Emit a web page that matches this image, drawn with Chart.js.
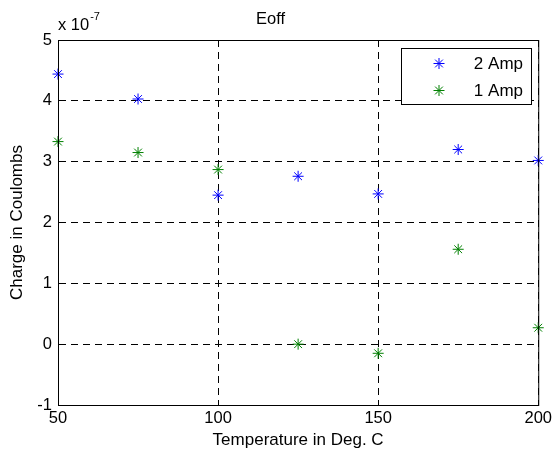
<!DOCTYPE html>
<html>
<head>
<meta charset="utf-8">
<script src="https://cdn.jsdelivr.net/npm/chart.js@4/dist/chart.umd.min.js"></script>
<style>
  html, body { margin: 0; padding: 0; background: #fff; }
  #wrap { width: 556px; height: 454px; }
</style>
</head>
<body>
<div id="wrap"><canvas id="eoffChart" width="556" height="454"></canvas></div>
<script>
// Switching charge vs temperature, values in units of 1e-7 C
let temps = [50, 75, 100, 125, 150, 175, 200];
let amp2 = [4.44, 4.03, 2.45, 2.76, 2.47, 3.20, 3.02];
let amp1 = [3.33, 3.15, 2.87, 0.00, -0.15, 1.56, 0.27];
let seriesNames = ["2 Amp", "1 Amp"];
let seriesColors = ["#0000ff", "#008000"];
let yTicks = [-1, 0, 1, 2, 3, 4, 5];
let xTicks = [50, 100, 150, 200];
let exponent = "-7";

const FONT = "'Liberation Sans', Arial, sans-serif";

function toPoints(ys) {
    return temps.map((t, i) => ({ x: t, y: ys[i] }));
}

// Full box round the plot + exponent note + legend inside
const frame = {
    id: 'frame',
    afterDatasetsDraw(chart) {
        const { ctx, chartArea: a } = chart;
        ctx.save();
        ctx.strokeStyle = '#000';
        ctx.lineWidth = 1;
        ctx.setLineDash([]);
        ctx.strokeRect(a.left + 0.5, a.top + 0.5, a.right - a.left, a.bottom - a.top);

        // exponent label
        ctx.fillStyle = '#000';
        ctx.textBaseline = 'alphabetic';
        ctx.textAlign = 'left';
        ctx.font = "16.5px " + FONT;
        ctx.fillText("x 10", a.left, a.top - 10);
        let w = ctx.measureText("x 10").width;
        ctx.font = "11px " + FONT;
        ctx.fillText(exponent, a.left + w + 1, a.top - 20);

        // legend
        const lx = 401, ly = 48, lw = 130, lh = 56;
        ctx.fillStyle = '#fff';
        ctx.fillRect(lx, ly, lw, lh);
        ctx.strokeStyle = '#000';
        ctx.strokeRect(lx + 0.5, ly + 0.5, lw, lh);
        ctx.font = "17px " + FONT;
        ctx.textAlign = 'right';
        ctx.textBaseline = 'middle';
        chart.data.datasets.forEach((ds, i) => {
            const cy = ly + 15.5 + i * 27;
            ctx.strokeStyle = ds.borderColor;
            ctx.fillStyle = ds.backgroundColor;
            ctx.lineWidth = 1;
            Chart.helpers.drawPoint(ctx, {
                pointStyle: 'star', radius: 5.5, borderWidth: 1
            }, 439, cy);
            ctx.fillStyle = '#000';
            ctx.fillText(ds.label, 523, cy + 1);
        });
        ctx.restore();
    }
};

const ctx = document.getElementById('eoffChart').getContext('2d');
new Chart(ctx, {
    type: 'scatter',
    data: {
        datasets: [
            { label: seriesNames[0], data: toPoints(amp2), borderColor: seriesColors[0], backgroundColor: seriesColors[0] },
            { label: seriesNames[1], data: toPoints(amp1), borderColor: seriesColors[1], backgroundColor: seriesColors[1] }
        ].map(d => Object.assign(d, {
            pointStyle: 'star', pointRadius: 5.5, pointBorderWidth: 1, pointHoverRadius: 5.5, clip: false
        }))
    },
    options: {
        responsive: false,
        animation: false,
        events: [],
        layout: { padding: { left: 0, right: 15, top: 0, bottom: 0 } },
        plugins: {
            legend: { display: false },
            tooltip: { enabled: false },
            title: {
                display: true,
                text: 'Eoff',
                color: '#000',
                font: { family: FONT, size: 16.5, weight: 'normal', lineHeight: 1.2 },
                padding: { top: 10, bottom: 10.2 }
            }
        },
        scales: {
            x: {
                type: 'linear',
                min: 50, max: 200,
                afterBuildTicks: s => { s.ticks = xTicks.map(v => ({ value: v })); },
                afterFit: s => { s.height = 49; },
                ticks: { color: '#000', padding: 4, font: { family: FONT, size: 16.5 } },
                grid: { color: '#000', lineWidth: 1, drawTicks: false },
                border: { color: '#000', width: 1, dash: [7, 5] },
                title: {
                    display: true, text: 'Temperature in Deg. C', color: '#000',
                    font: { family: FONT, size: 17 }, padding: { top: 0, bottom: 3 }
                }
            },
            y: {
                type: 'linear',
                min: -1, max: 5,
                afterBuildTicks: s => { s.ticks = yTicks.map(v => ({ value: v })); },
                afterFit: s => { s.width = 58; },
                ticks: { color: '#000', padding: 6, font: { family: FONT, size: 16.5 } },
                grid: { color: '#000', lineWidth: 1, drawTicks: false },
                border: { color: '#000', width: 1, dash: [7, 5] },
                title: {
                    display: true, text: 'Charge in Coulombs', color: '#000',
                    font: { family: FONT, size: 17 }, padding: { top: 7, bottom: 0 }
                }
            }
        }
    },
    plugins: [frame]
});
</script>
</body>
</html>
